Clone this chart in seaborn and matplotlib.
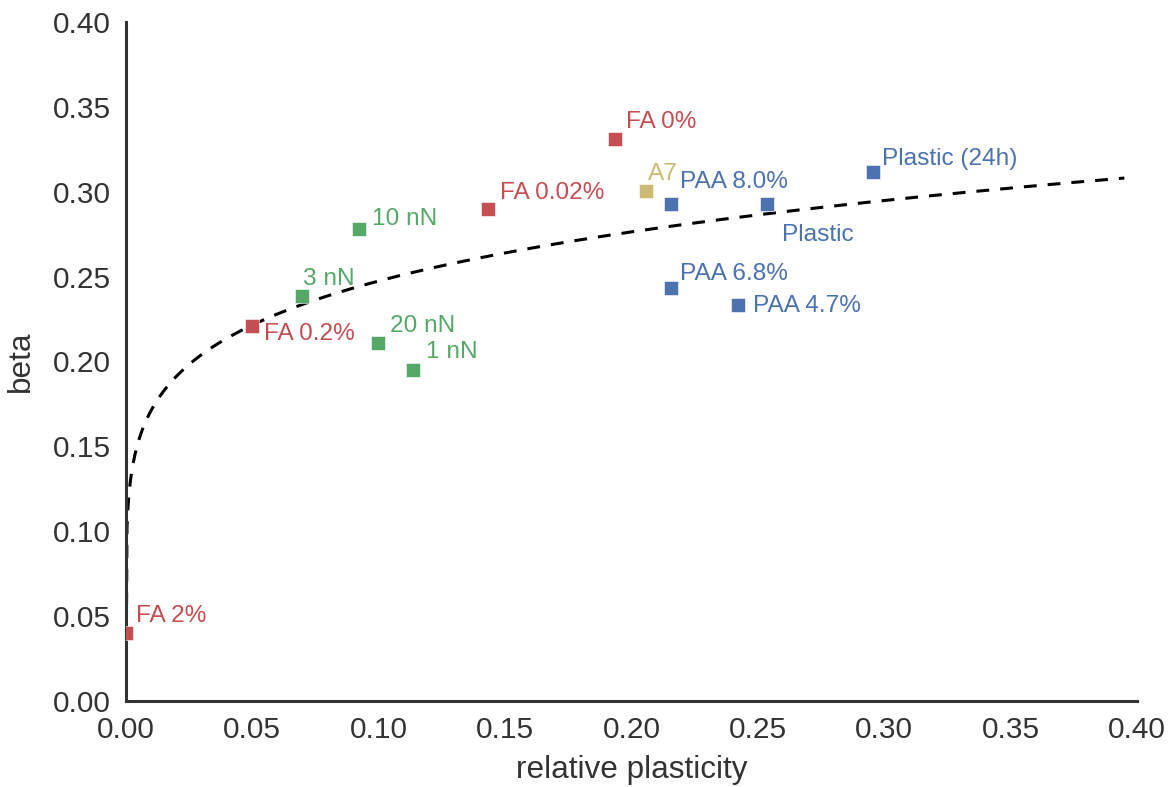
import numpy as np
import pandas as pd
import matplotlib
matplotlib.use("Agg")
import matplotlib.pyplot as plt
import seaborn as sns

# ---- data ----
labels = ["FA 0%", "FA 0.02%", "FA 0.2%", "FA 2%", "A7",
          "PAA 8.0%", "Plastic", "Plastic (24h)", "PAA 6.8%", "PAA 4.7%",
          "10 nN", "3 nN", "20 nN", "1 nN"]
plasticity = [0.1935, 0.1432, 0.0499, 0.0, 0.2057,
              0.2156, 0.2536, 0.2955, 0.2156, 0.2421,
              0.0922, 0.0696, 0.0997, 0.1136]
beta = [0.331, 0.2898, 0.2209, 0.0401, 0.3004,
        0.2928, 0.2928, 0.3116, 0.2433, 0.2333,
        0.2781, 0.2386, 0.2109, 0.1950]
group = ["FA", "FA", "FA", "FA", "A7",
         "Substrate", "Substrate", "Substrate", "Substrate", "Substrate",
         "Force", "Force", "Force", "Force"]

# power-law fit  beta = a * plasticity ** b
fit_a = 0.3573
fit_b = 0.1596
fit_xmax = 0.395

df = pd.DataFrame({"label": labels, "plasticity": plasticity,
                   "beta": beta, "group": group})

# ---- style ----
palette = {"FA": "#C44E52", "A7": "#CCB974", "Substrate": "#4C72B0", "Force": "#55A868"}
label_offsets = {  # pixels (dx, dy)
    "FA 0%": (11, 11), "A7": (2, 11), "FA 0.02%": (12, 10), "PAA 8.0%": (9, 16),
    "Plastic": (15, -37), "Plastic (24h)": (9, 7), "10 nN": (13, 4), "3 nN": (1, 11),
    "FA 0.2%": (12, -14), "20 nN": (12, 11), "1 nN": (13, 12), "PAA 6.8%": (9, 8),
    "PAA 4.7%": (15, -7), "FA 2%": (10, 11),
}

sns.set_theme(style="white")
plt.rcParams["font.family"] = ["Liberation Sans", "DejaVu Sans"]

fig = plt.figure(figsize=(11.76, 7.87), dpi=100)
ax = fig.add_axes([126 / 1176, 1 - 701 / 787, (1137 - 126) / 1176, (701 - 22) / 787])

xs = np.linspace(0, fit_xmax, 1000)
ax.plot(xs, fit_a * xs ** fit_b, color="black", lw=2.2,
        linestyle=(0, (4.2, 3.6)), zorder=2)

sns.scatterplot(data=df, x="plasticity", y="beta", hue="group", palette=palette,
                marker="s", s=100, edgecolor="white", linewidth=0.4,
                legend=False, ax=ax, zorder=3)

for lab, x, y, g in zip(labels, plasticity, beta, group):
    dx, dy = label_offsets[lab]
    ax.annotate(lab, (x, y), xytext=(dx, dy), textcoords="offset pixels",
                ha="left", va="baseline", fontsize=17.6, color=palette[g])

ax.set_xlim(0, 0.4)
ax.set_ylim(0, 0.4)
ax.set_xticks(np.arange(0, 0.401, 0.05))
ax.set_yticks(np.arange(0, 0.401, 0.05))
ax.xaxis.set_major_formatter(matplotlib.ticker.FormatStrFormatter("%.2f"))
ax.yaxis.set_major_formatter(matplotlib.ticker.FormatStrFormatter("%.2f"))
ax.tick_params(labelsize=21.5, colors="#333333", length=0)
ax.tick_params(axis="x", pad=11)
ax.tick_params(axis="y", pad=11)
ax.set_xlabel("relative plasticity", fontsize=22.7, color="#333333", labelpad=8)
ax.set_ylabel("beta", fontsize=22.7, color="#333333", labelpad=12)
sns.despine(ax=ax)
for sp in ["left", "bottom"]:
    ax.spines[sp].set_linewidth(2.2)
    ax.spines[sp].set_color("#333333")

fig.savefig("out.png", dpi=100)
